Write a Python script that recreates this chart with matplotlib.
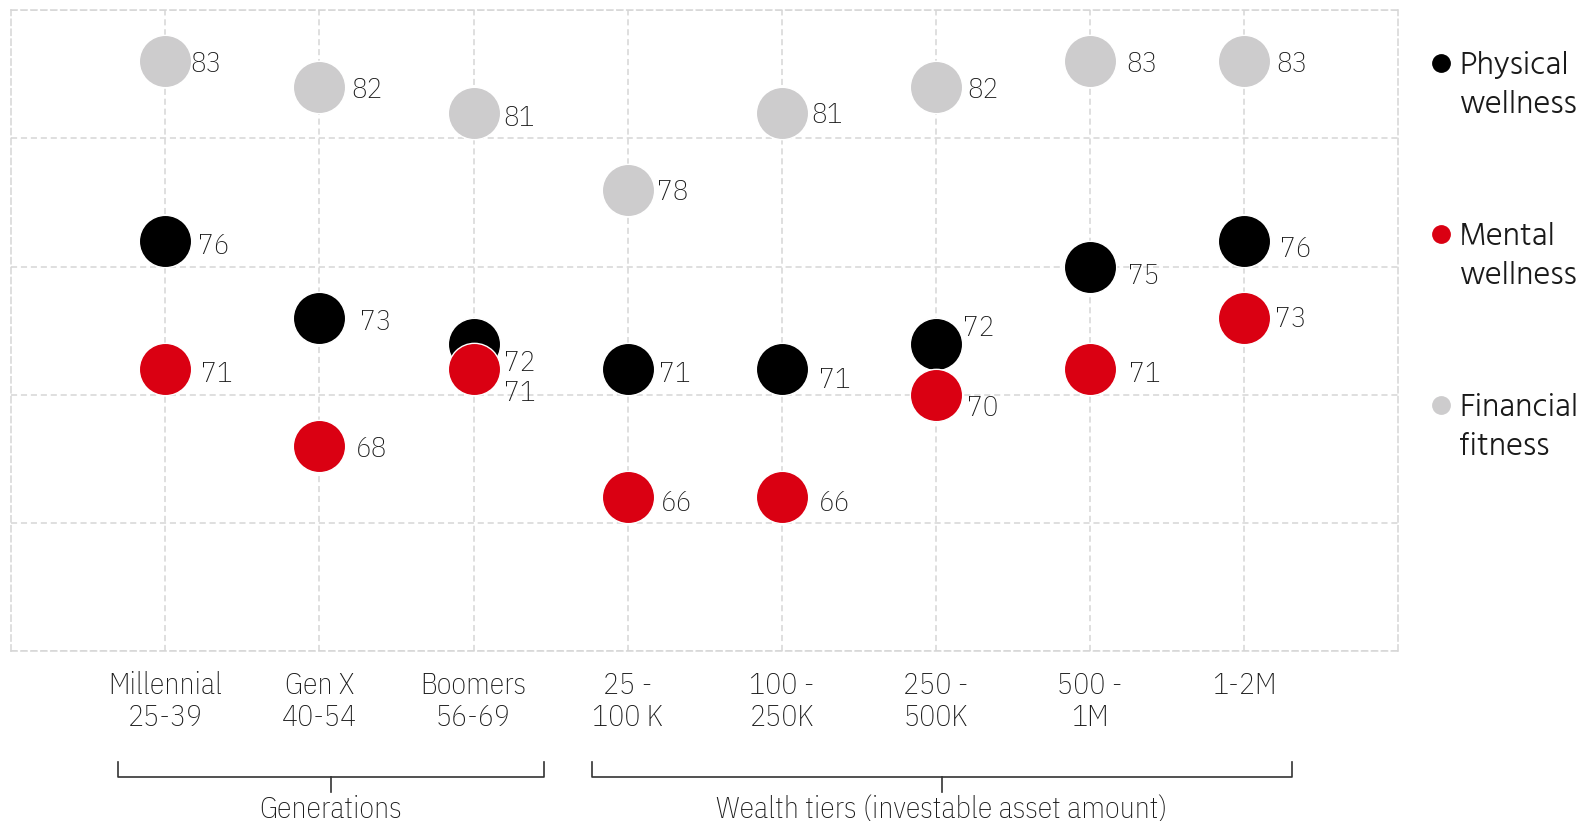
import matplotlib.pyplot as plt
from matplotlib.lines import Line2D
import numpy as np

# data
categories = ['Millennial\n25-39', 'Gen X\n40-54', 'Boomers\n56-69', '25 -\n100 K',
              '100 -\n250K', '250 -\n500K', '500 -\n1M', '1-2M']
physical = [76, 73, 72, 71, 71, 72, 75, 76]
mental = [71, 68, 71, 66, 66, 70, 71, 73]
financial = [83, 82, 81, 78, 81, 82, 83, 83]

series_names = ['Physical\nwellness', 'Mental\nwellness', 'Financial\nfitness']
groups = ['Generations', 'Wealth tiers (investable asset amount)']
group_spans = [(-0.31, 2.46), (2.77, 7.31)]

BLACK = '#000000'
RED = '#DA0012'
GREY = '#CDCCCD'
TXT = '#1a1a1a'
GRID = '#D6D6D6'
NARROW = ['IBM Plex Sans Condensed', 'DejaVu Sans']
WIDE = ['Hind', 'Liberation Sans', 'DejaVu Sans']

# value label placement, pixels right of / below the dot centre
lbl_dx = {'f': [27, 33, 31, 31, 31, 33, 38, 34],
          'p': [34, 42, 32, 33, 39, 29, 39, 37],
          'm': [37, 38, 32, 35, 39, 33, 40, 32]}
lbl_dy = {'f': [0, 1, 3, 0, 0, 1, 0, 0],
          'p': [3, 2, 17, 2, 8, -18, 7, 5],
          'm': [2, 0, 21, 3, 3, 10, 2, -1]}

fig = plt.figure(figsize=(15.91, 8.21), dpi=100)
ax = fig.add_axes([0.00704, 0.2065, 0.8718, 0.7814])
x = np.arange(len(categories))
px2pt = 72 / 100 * 1.015

# draw order: grey, black, red on top
for key, vals, col in [('f', financial, GREY), ('p', physical, BLACK), ('m', mental, RED)]:
    ax.scatter(x, vals, s=1420, color=col, edgecolors='white', linewidths=1, zorder=3)
    for i, v in enumerate(vals):
        dx = (lbl_dx[key][i] - 2) * px2pt
        dy = -(lbl_dy[key][i] + 3) * px2pt
        ax.annotate(str(v), xy=(x[i], v), xytext=(dx, dy), textcoords='offset points',
                    ha='left', va='center', fontsize=21, color=TXT, family=NARROW,
                    weight='light', zorder=4)

ax.set_xlim(-1, 8)
ax.set_ylim(60, 85)
ax.set_xticks(x)
ax.set_xticklabels(categories, family=NARROW, weight='light', fontsize=21.5, color=TXT,
                   linespacing=1.15)
ax.set_yticks(range(60, 86, 5))
ax.tick_params(axis='x', length=0, pad=14)
ax.tick_params(axis='y', left=False, labelleft=False)
ax.grid(True, color=GRID, linestyle=(0, (4, 2.5)), linewidth=1.1, zorder=0)
for sp in ax.spines.values():
    sp.set_color(GRID)
    sp.set_linestyle((0, (4, 2.5)))
    sp.set_linewidth(1.1)

# group brackets under the tick labels
tr = ax.get_xaxis_transform()
for (x0, x1), name in zip(group_spans, groups):
    xm = (x0 + x1) / 2
    ax.plot([x0, x0, x1, x1], [-0.172, -0.1957, -0.1957, -0.172], color='#333333',
            lw=1.2, transform=tr, clip_on=False, solid_joinstyle='round')
    ax.plot([xm, xm], [-0.1957, -0.219], color='#333333', lw=1.2, transform=tr, clip_on=False)
    ax.text(xm, -0.246, name, transform=tr, ha='center', va='center', fontsize=21.5,
            color=TXT, family=NARROW, weight='light')

# legend drawn by hand so the dot sits on the first line
for k, (name, col) in enumerate(zip(series_names, [BLACK, RED, GREY])):
    yc = 1 - (63 + 171 * k) / 821
    fig.add_artist(Line2D([1441 / 1591], [yc], marker='o', markersize=12.5, color=col,
                          linestyle='none', transform=fig.transFigure))
    fig.text(1459 / 1591, yc + 12 / 821, name, ha='left', va='top', fontsize=23.5,
             color=TXT, family=WIDE, weight='light', linespacing=1.45)

fig.savefig('out.png', dpi=100)
